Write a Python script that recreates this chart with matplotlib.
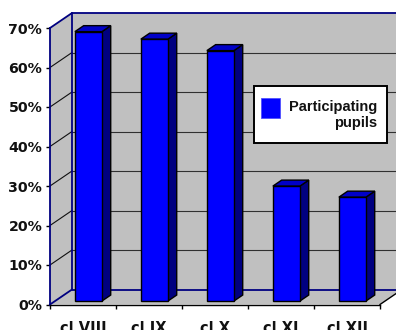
import matplotlib
matplotlib.use("Agg")
import matplotlib.pyplot as plt
from matplotlib.patches import Polygon, Rectangle
from matplotlib.ticker import FixedLocator, FixedFormatter

# ---- data ----
categories = ["cl VIII", "cl IX", "cl X", "cl XI", "cl XII"]
participating = [68.2, 66.3, 63.4, 29.1, 26.3]
y_ticks = [0, 10, 20, 30, 40, 50, 60, 70]
y_tick_labels = ["0%", "10%", "20%", "30%", "40%", "50%", "60%", "70%"]
legend_lines = ["Participating", "pupils"]

W, H = 396, 330
fig = plt.figure(figsize=(W / 100, H / 100), dpi=100)
fig.patch.set_facecolor("white")

# front plane of the 3-D box
ax = fig.add_axes([50 / W, 25.5 / H, 330 / W, 276.5 / H])
n = len(categories)
ymax = y_ticks[-1]
ax.set_xlim(0, n)
ax.set_ylim(0, ymax)
ax.set_facecolor("none")

# depth vector of the box, in data units
DX = 22 / 66.0
DY = 15 / 276.5 * ymax

wall = "#C0C0C0"
navy = "#000080"
kw = dict(clip_on=False, transform=ax.transData)

# walls and floor
ax.add_patch(Polygon([(DX, DY), (n + DX, DY), (n + DX, ymax + DY), (DX, ymax + DY)],
                     facecolor=wall, edgecolor="none", zorder=0, **kw))
ax.add_patch(Polygon([(0, 0), (DX, DY), (DX, ymax + DY), (0, ymax)],
                     facecolor=wall, edgecolor="none", zorder=0, **kw))
ax.add_patch(Polygon([(0, 0), (n, 0), (n + DX, DY), (DX, DY)],
                     facecolor=wall, edgecolor="none", zorder=0, **kw))

# gridlines on the back and side walls
for v in y_ticks[1:-1]:
    ax.plot([0, DX], [v, v + DY], color="#101010", lw=0.8, zorder=1, **kw)
    ax.plot([DX, n + DX], [v + DY, v + DY], color="#303030", lw=0.8, zorder=1, **kw)

# box outline
ax.plot([0, DX, n + DX], [ymax, ymax + DY, ymax + DY], color=navy, lw=1.3, zorder=2, **kw)
ax.plot([DX, DX, n + DX], [ymax + DY, DY, DY], color=navy, lw=1.3, zorder=2, **kw)
ax.plot([0, DX], [0, DY], color=navy, lw=1.3, zorder=2, **kw)
ax.plot([n, n + DX], [0, DY], color="black", lw=1.0, zorder=2, **kw)

# 3-D bars
z0, z1 = 0.23, 0.63
bl, bw = 0.30, 0.41
front_c, side_c, top_c = "#0000FF", "#000080", "#0000C8"
for i, v in enumerate(participating):
    xl = i + bl + z0 * DX
    xr = xl + bw
    y0 = z0 * DY
    ddx = (z1 - z0) * DX
    ddy = (z1 - z0) * DY
    ax.add_patch(Polygon([(xr, y0), (xr + ddx, y0 + ddy), (xr + ddx, v + y0 + ddy), (xr, v + y0)],
                         facecolor=side_c, edgecolor="black", lw=1.0, zorder=5, **kw))
    ax.add_patch(Polygon([(xl, v + y0), (xr, v + y0), (xr + ddx, v + y0 + ddy), (xl + ddx, v + y0 + ddy)],
                         facecolor=top_c, edgecolor="black", lw=1.0, zorder=5, **kw))
    ax.add_patch(Polygon([(xl, y0), (xr, y0), (xr, v + y0), (xl, v + y0)],
                         facecolor=front_c, edgecolor="black", lw=1.0, zorder=6, **kw))

# axes, ticks and labels
for s in ("top", "right"):
    ax.spines[s].set_visible(False)
ax.spines["left"].set_color(navy)
ax.spines["left"].set_linewidth(1.3)
ax.spines["bottom"].set_color("black")
ax.spines["bottom"].set_linewidth(1.0)
ax.spines["left"].set_zorder(3)
ax.spines["bottom"].set_zorder(3)

ax.yaxis.set_major_locator(FixedLocator(y_ticks))
ax.yaxis.set_major_formatter(FixedFormatter(y_tick_labels))
ax.tick_params(axis="y", length=3, width=1.0, color="black", pad=2.5,
               labelsize=10.2, labelcolor="#111111")

ax.xaxis.set_major_locator(FixedLocator(list(range(n + 1))))
ax.xaxis.set_major_formatter(FixedFormatter([""] * (n + 1)))
ax.xaxis.set_minor_locator(FixedLocator([i + 0.5 for i in range(n)]))
ax.xaxis.set_minor_formatter(FixedFormatter(categories))
ax.tick_params(axis="x", which="major", length=3, width=1.0, color="black")
ax.tick_params(axis="x", which="minor", length=0, pad=12, labelsize=10.5,
               labelcolor="#111111")
for lab in ax.get_yticklabels() + ax.get_xticklabels(minor=True):
    lab.set_fontweight("bold")

# legend box (figure pixel coordinates, measured from the top)
def fx(x):
    return x / W

def fy(y):
    return (H - y) / H

fig.patches.append(Rectangle((fx(254), fy(143)), 133 / W, 57 / H, transform=fig.transFigure,
                             facecolor="white", edgecolor="black", lw=1.4, zorder=10))
fig.patches.append(Rectangle((fx(261), fy(118)), 19 / W, 20 / H, transform=fig.transFigure,
                             facecolor=front_c, edgecolor="#5050FF", lw=0.6, zorder=11))
for k, txt in enumerate(legend_lines):
    fig.text(fx(377), fy(111.5 + 15 * k), txt, ha="right", va="baseline",
             fontsize=10.5, fontweight="bold", family="Liberation Sans",
             color="#111111", zorder=12)

fig.savefig("out.png", dpi=100)
